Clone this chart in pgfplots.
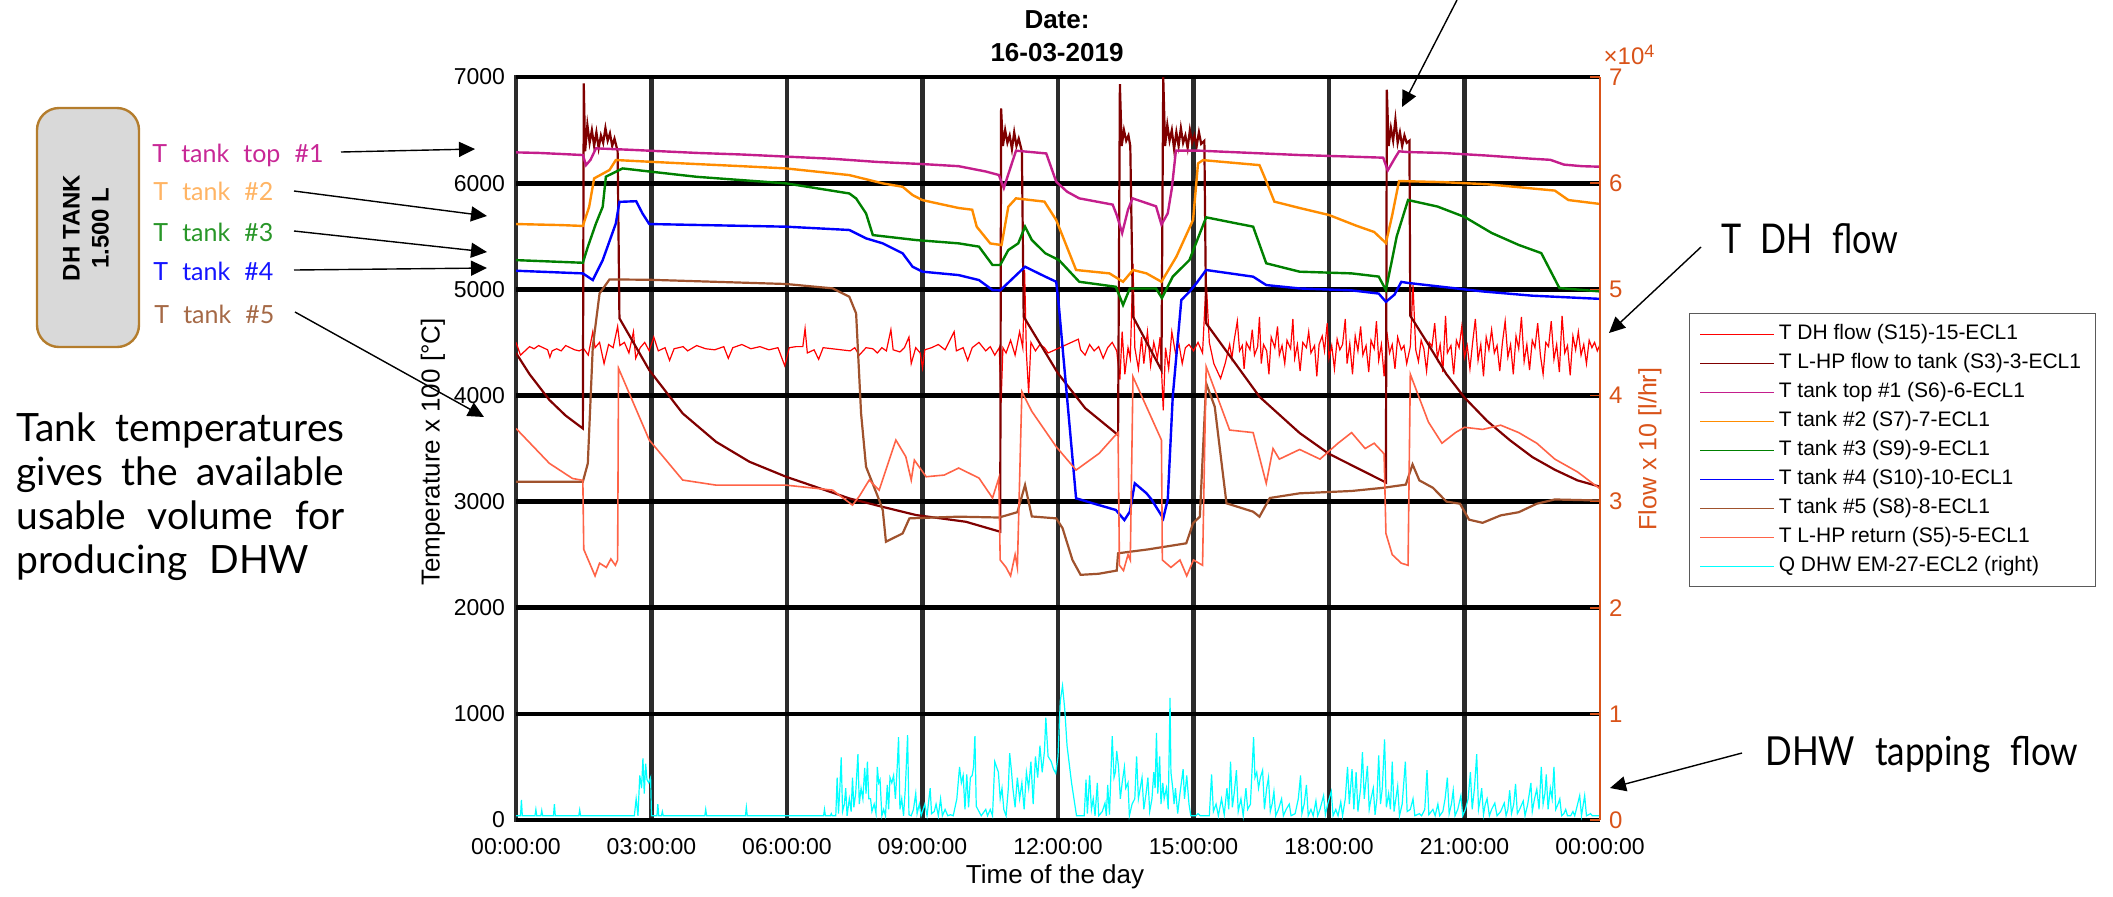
\documentclass[border=0pt]{standalone}
\usepackage{fontspec}
\setmainfont{Liberation Sans}
\newfontfamily\annot{Lato}[WordSpace=2.2]
\usepackage{graphicx}
\usepackage{pgfplots}
\pgfplotsset{compat=1.18}
\usetikzlibrary{arrows.meta}
\definecolor{cDH}{RGB}{255,0,0}
\definecolor{cLHP}{RGB}{128,0,0}
\definecolor{cTop}{RGB}{196,30,140}
\definecolor{cT2}{RGB}{255,140,0}
\definecolor{cT3}{RGB}{0,128,0}
\definecolor{cT4}{RGB}{0,0,255}
\definecolor{cT5}{RGB}{160,82,45}
\definecolor{cRet}{RGB}{255,99,71}
\definecolor{cQ}{RGB}{0,255,255}
\definecolor{cAx}{RGB}{217,83,25}
\definecolor{cGridV}{RGB}{43,43,43}
\definecolor{lTop}{RGB}{200,40,150}
\definecolor{lT2}{RGB}{255,180,100}
\definecolor{lT3}{RGB}{40,150,40}
\definecolor{lT4}{RGB}{20,20,255}
\definecolor{lT5}{RGB}{165,105,70}
\definecolor{boxfill}{RGB}{217,217,217}
\definecolor{boxdraw}{RGB}{180,125,45}
\definecolor{legdraw}{RGB}{90,90,90}
\begin{document}
\begin{tikzpicture}[x=0.5pt,y=-0.5pt]
\useasboundingbox (0,0) rectangle (2113,896);
% ---------------- main axis ----------------
\begin{axis}[
  at={(258pt,-410pt)}, anchor=south west, scale only axis,
  width=542pt, height=371.5pt,
  xmin=0, xmax=24, ymin=0, ymax=7000,
  axis line style={draw=none},
  xtick={0,3,...,21},
  xticklabels={00:00:00,03:00:00,06:00:00,09:00:00,12:00:00,15:00:00,18:00:00,21:00:00},
  extra x ticks={24}, extra x tick labels={00:00:00},
  extra x tick style={grid=none},
  ytick={0,1000,...,7000},
  yticklabels={0,1000,2000,3000,4000,5000,6000,7000},
  xmajorgrids, ymajorgrids,
  x grid style={line width=2.3pt, cGridV, line cap=rect},
  y grid style={line width=2.35pt, black},
  major tick length=0pt,
  tick label style={font=\fontsize{11.5}{13}\selectfont, black},
  yticklabel style={xshift=-2pt},
  xticklabel style={yshift=-5.5pt},
  legend cell align=left,
  legend style={at={(1.0821,0.6824)}, anchor=north west, draw=legdraw, line width=0.6pt,
    font=\fontsize{10.5}{12.6}\selectfont, inner xsep=5pt, inner ysep=3pt, row sep=0pt,
    nodes={inner sep=2pt, text height=8pt, text depth=2.5pt}},
  legend image code/.code={\draw[#1] (0pt,0pt) -- (37pt,0pt);},
  legend image post style={line width=0.6pt},
]
% T DH flow
\addplot[cDH, line width=0.6pt] coordinates {
(0,4500)(0.1,4380)(0.2,4420)(0.3,4460)(0.4,4440)(0.5,4470)(0.6,4450)(0.7,4430)(0.75,4360)(0.8,4420)(0.9,4440)(1.0,4420)(1.1,4470)(1.2,4450)(1.3,4430)(1.4,4420)(1.5,4440)(1.6,4380)(1.7,4600)(1.75,4450)(1.85,4500)(1.95,4300)(2.05,4480)(2.15,4450)(2.25,4650)(2.3,4470)(2.4,4500)(2.5,4400)(2.6,4600)(2.65,4350)(2.75,4450)(2.85,4500)(2.95,4420)(3.05,4550)(3.15,4420)(3.3,4450)(3.4,4330)(3.5,4440)(3.7,4460)(3.8,4420)(4.0,4470)(4.2,4440)(4.4,4430)(4.6,4460)(4.7,4350)(4.8,4450)(5.0,4480)(5.2,4440)(5.4,4460)(5.6,4430)(5.8,4450)(5.95,4280)(6.05,4450)(6.2,4460)(6.35,4460)(6.4,4630)(6.45,4400)(6.6,4430)(6.7,4340)(6.8,4450)(7.0,4440)
(7.2,4430)(7.4,4420)(7.5,4450)(7.6,4380)(7.75,4450)(7.9,4440)(8.0,4400)(8.1,4450)(8.2,4420)(8.3,4620)(8.35,4430)(8.5,4410)(8.6,4450)(8.7,4550)(8.75,4300)(8.85,4450)(8.95,4400)(9.0,4260)(9.05,4430)(9.2,4450)(9.35,4480)(9.5,4430)(9.7,4600)(9.75,4420)(9.9,4450)(10.0,4330)(10.1,4450)(10.25,4500)(10.4,4420)(10.5,4460)(10.6,4380)(10.7,4450)(10.74,3930)(10.78,4450)(10.85,4400)(10.95,4520)(11.05,4380)(11.15,4600)(11.22,4450)(11.26,5180)(11.3,4400)(11.35,4020)(11.4,4500)(11.5,4420)(11.6,4480)(11.7,4450)(11.78,4400)(12.45,4530)
(12.5,4430)(12.6,4380)(12.7,4480)(12.8,4420)(12.9,4460)(13.0,4350)(13.1,4450)(13.2,4500)(13.3,4420)(13.37,4150)(13.42,4600)(13.48,4200)(13.55,4450)(13.6,4350)(13.66,5240)(13.7,4450)(13.78,4250)(13.85,4550)(13.9,4300)(13.98,4600)(14.05,4280)(14.12,4500)(14.2,4350)(14.26,4550)(14.33,3860)(14.38,4450)(14.45,4250)(14.52,4600)(14.6,4400)(14.68,4480)(14.75,4300)(14.82,4450)(14.9,4480)(15.0,4420)(15.1,4500)(15.2,4400)(15.28,5090)(15.35,4500)(15.45,4300)(15.6,4160)(15.7,4300)
(15.8,4480)(15.85,4350)(15.9,4520)(15.97,4700)(16.02,4420)(16.08,4470)(16.12,4250)(16.17,4500)(16.25,4430)(16.3,4620)(16.35,4380)(16.42,4460)(16.46,4740)(16.5,4300)(16.55,4480)(16.62,4420)(16.67,4200)(16.72,4550)(16.8,4450)(16.86,4650)(16.9,4380)(16.96,4470)(17.02,4300)(17.07,4520)(17.15,4440)(17.2,4720)(17.24,4350)(17.3,4480)(17.36,4230)(17.42,4500)(17.5,4450)(17.55,4600)(17.6,4400)(17.68,4470)(17.73,4180)(17.78,4480)(17.85,4560)(17.9,4420)(17.96,4680)(18.0,4350)(18.06,4470)(18.12,4250)(18.18,4530)(18.24,4430)(18.3,4480)(18.36,4720)(18.4,4300)(18.46,4490)(18.52,4200)(18.58,4560)(18.64,4420)(18.7,4650)(18.75,4380)(18.82,4470)(18.88,4220)(18.93,4520)(19.0,4440)(19.05,4700)(19.1,4330)(19.16,4480)(19.22,4180)(19.28,4600)(19.34,4400)(19.4,4480)(19.46,4250)(19.52,4550)(19.6,4430)(19.66,4470)(19.72,4300)(19.8,4460)(19.86,5040)(19.92,4430)(19.98,4320)(20.04,4520)(20.1,4440)(20.16,4230)(20.22,4500)(20.28,4460)(20.34,4680)(20.4,4350)(20.46,4480)(20.52,4220)(20.58,4750)(20.62,4400)(20.7,4470)(20.76,4200)(20.82,4520)(20.88,4450)(20.94,4650)(21.0,4360)(21.06,4470)(21.12,4250)(21.18,4500)(21.24,4720)(21.3,4330)(21.36,4480)(21.42,4180)(21.48,4550)(21.54,4430)(21.6,4620)(21.66,4400)(21.72,4470)(21.78,4230)(21.84,4500)(21.9,4700)(21.96,4360)(22.02,4480)(22.08,4200)(22.14,4560)(22.2,4440)(22.26,4740)(22.32,4320)(22.38,4480)(22.44,4240)(22.5,4520)(22.56,4450)(22.62,4680)(22.68,4380)(22.74,4200)(22.8,4500)(22.86,4460)(22.92,4700)(22.98,4340)(23.04,4480)(23.1,4220)(23.16,4750)(23.22,4400)(23.28,4470)(23.34,4190)(23.4,4560)(23.46,4430)(23.52,4600)(23.58,4380)(23.64,4480)(23.7,4300)(23.76,4520)(23.82,4450)(23.88,4500)(23.94,4420)(24,4480)
};
\addlegendentry{T DH flow (S15)-15-ECL1}
% T L-HP flow to tank
\addplot[cLHP, line width=1.1pt] coordinates {
(0,4400)(0.3,4200)(0.74,3957)(1.1,3810)(1.48,3689)(1.5,6940)(1.53,6300)(1.58,6550)(1.63,6380)(1.68,6500)(1.73,6350)(1.78,6480)(1.83,6330)(1.88,6450)(1.93,6380)(1.98,6520)(2.03,6400)(2.08,6470)(2.13,6350)(2.18,6420)(2.25,6300)(2.29,4727)(2.95,4239)(3.69,3831)(4.43,3563)(5.17,3375)(5.98,3234)(7.38,3030)(8.12,2950)(8.86,2873)(9.96,2810)(10.72,2716)(10.74,6705)(10.78,6350)(10.83,6500)(10.88,6380)(10.93,6450)(10.98,6320)(11.03,6480)(11.08,6350)(11.13,6420)(11.2,6300)(11.24,4742)(12.0,4208)(12.6,3881)(13.33,3627)(13.37,6934)(13.41,6350)(13.46,6500)(13.51,6400)(13.56,6450)(13.6,6350)(13.66,4742)(14.29,4239)(14.33,7000)(14.37,6350)(14.42,6550)(14.47,6400)(14.52,6500)(14.57,6320)(14.62,6480)(14.67,6350)(14.72,6520)(14.77,6380)(14.82,6450)(14.87,6330)(14.92,6500)(14.97,6380)(15.02,6450)(15.07,6350)(15.12,6480)(15.17,6370)(15.24,6400)(15.28,4680)(16.46,3988)(17.35,3646)(18.0,3450)(18.7,3300)(19.26,3180)(19.28,6880)(19.32,6350)(19.37,6520)(19.42,6400)(19.47,6600)(19.52,6380)(19.57,6480)(19.62,6350)(19.67,6450)(19.72,6380)(19.78,6400)(19.8,4750)(20.2,4480)(20.6,4200)(21.0,3980)(21.5,3760)(22.0,3580)(22.5,3420)(23.0,3300)(23.5,3200)(24,3140)
};
\addlegendentry{T L-HP flow to tank (S3)-3-ECL1}
% T tank top #1
\addplot[cTop, line width=1.2pt] coordinates {
(0,6290)(0.5,6285)(1.0,6275)(1.48,6265)(1.55,6170)(1.65,6220)(1.77,6328)(2.5,6315)(3,6305)(4,6285)(5,6270)(6,6250)(7,6230)(8,6200)(9,6180)(9.8,6160)(10.4,6110)(10.69,6077)(10.8,5954)(10.95,6150)(11.07,6306)(11.74,6280)(11.96,6014)(12.2,5920)(12.47,5857)(13.21,5798)(13.3,5700)(13.42,5530)(13.55,5750)(13.65,5857)(14.17,5782)(14.29,5610)(14.43,5716)(14.52,5950)(14.61,6306)(15.14,6306)(16,6290)(17.35,6265)(18.5,6250)(19.2,6240)(19.3,6120)(19.45,6230)(19.55,6300)(19.75,6293)(20.5,6285)(21.5,6260)(22.5,6230)(22.9,6220)(23.2,6175)(23.6,6160)(24,6155)
};
\addlegendentry{T tank top \#1 (S6)-6-ECL1}
% T tank #2
\addplot[cT2, line width=1.2pt] coordinates {
(0,5615)(1.0,5605)(1.48,5597)(1.62,5778)(1.73,6045)(2.07,6124)(2.21,6218)(2.95,6202)(4,6180)(5,6160)(5.98,6139)(7.38,6076)(8.12,5998)(8.56,5966)(8.78,5888)(9.0,5840)(9.8,5766)(10.1,5750)(10.2,5590)(10.38,5495)(10.5,5432)(10.75,5417)(10.9,5778)(11.07,5857)(11.7,5826)(11.96,5653)(12.4,5182)(13.14,5150)(13.44,5071)(13.66,5182)(13.96,5150)(14.29,5071)(14.62,5307)(14.99,5653)(15.1,6186)(15.21,6217)(16.46,6170)(16.6,6029)(16.79,5826)(17.35,5766)(18.0,5700)(18.6,5600)(19.0,5540)(19.26,5436)(19.4,5700)(19.55,6020)(20.5,6010)(21.5,5990)(22.5,5950)(23.0,5930)(23.3,5841)(24,5804)
};
\addlegendentry{T tank \#2 (S7)-7-ECL1}
% T tank #3
\addplot[cT3, line width=1.2pt] coordinates {
(0,5275)(1.48,5250)(1.59,5400)(1.77,5620)(1.92,5778)(1.99,6061)(2.36,6139)(2.95,6110)(4,6060)(5.98,5998)(7.38,5903)(7.53,5856)(7.75,5715)(7.9,5511)(8.86,5464)(9.8,5433)(10.25,5402)(10.55,5229)(10.72,5229)(10.9,5370)(11.12,5433)(11.27,5590)(11.42,5465)(11.72,5339)(12.02,5276)(12.47,5071)(13.28,5024)(13.44,4852)(13.59,5008)(14.17,5008)(14.3,4918)(14.54,5119)(14.91,5276)(15.14,5527)(15.28,5678)(16.32,5590)(16.61,5245)(17.35,5166)(18.5,5150)(19.1,5120)(19.26,4993)(19.5,5500)(19.75,5841)(20.4,5780)(21.0,5682)(21.6,5531)(22.2,5418)(22.7,5341)(23.1,5012)(24,4980)
};
\addlegendentry{T tank \#3 (S9)-9-ECL1}
% T tank #4
\addplot[cT4, line width=1.2pt] coordinates {
(0,5175)(1.48,5150)(1.7,5087)(1.92,5275)(2.21,5620)(2.29,5824)(2.66,5830)(2.8,5715)(2.95,5615)(5.98,5590)(7.38,5559)(7.75,5480)(8.12,5433)(8.56,5339)(8.78,5213)(9.0,5166)(9.8,5134)(10.25,5087)(10.55,4993)(10.72,4990)(11.27,5213)(11.72,5119)(11.96,5071)(12.02,4836)(12.4,3031)(12.77,2984)(13.28,2921)(13.47,2826)(13.59,2905)(13.7,3172)(13.96,3078)(14.07,3020)(14.33,2842)(14.43,3020)(14.54,3988)(14.73,4899)(14.91,4977)(15.06,5055)(15.28,5182)(16.32,5119)(16.61,5040)(17.35,5008)(18.5,4990)(19.1,4960)(19.26,4882)(19.45,4950)(19.6,5070)(19.75,5060)(21.4,4980)(22.5,4940)(24,4910)
};
\addlegendentry{T tank \#4 (S10)-10-ECL1}
% T tank #5
\addplot[cT5, line width=1.1pt] coordinates {
(0,3187)(1.48,3187)(1.59,3360)(1.7,4459)(1.85,4961)(2.07,5093)(2.95,5090)(5.98,5050)(7.01,5009)(7.38,4930)(7.53,4773)(7.64,3831)(7.75,3328)(8.04,3015)(8.12,2920)(8.19,2622)(8.56,2700)(8.71,2842)(9.8,2858)(10.69,2850)(11.1,2900)(11.27,3156)(11.42,2860)(11.96,2842)(12.1,2750)(12.32,2450)(12.5,2310)(12.9,2320)(13.3,2350)(13.33,2513)(14.0,2550)(14.84,2607)(14.99,2796)(15.14,2858)(15.28,4114)(15.47,3894)(15.73,2984)(16.32,2905)(16.46,2858)(16.69,3034)(17.35,3078)(18.5,3100)(19.2,3130)(19.7,3160)(19.85,3350)(20.0,3200)(20.3,3130)(20.6,3000)(20.9,2980)(21.1,2830)(21.4,2800)(21.8,2870)(22.2,2900)(22.6,2980)(23.0,3020)(24,3010)
};
\addlegendentry{T tank \#5 (S8)-8-ECL1}
% T L-HP return
\addplot[cRet, line width=0.8pt] coordinates {
(0,3689)(0.74,3360)(1.25,3218)(1.48,3200)(1.5,2550)(1.6,2450)(1.75,2300)(1.85,2420)(2.0,2380)(2.1,2460)(2.2,2400)(2.25,2450)(2.27,4256)(2.95,3580)(3.69,3203)(4.43,3155)(5.98,3155)(7.01,3108)(7.45,2967)(7.6,3050)(7.82,3203)(8.04,3108)(8.41,3580)(8.63,3423)(8.75,3203)(8.82,3391)(9.08,3234)(9.48,3250)(9.8,3316)(10.25,3222)(10.55,3034)(10.69,3222)(10.72,2450)(10.85,2380)(10.95,2300)(11.05,2500)(11.1,2380)(11.2,4035)(11.42,3850)(11.96,3517)(12.4,3297)(12.91,3454)(13.24,3611)(13.33,3650)(13.36,2400)(13.45,2350)(13.55,2500)(13.6,2450)(13.66,4176)(14.29,3580)(14.31,2450)(14.5,2380)(14.7,2450)(14.85,2300)(15.0,2450)(15.2,2400)(15.28,4271)(15.8,3674)(16.32,3650)(16.61,3172)(16.76,3500)(16.9,3400)(17.35,3491)(17.8,3400)(18.2,3550)(18.5,3650)(18.8,3500)(19.0,3550)(19.22,3450)(19.26,2700)(19.4,2500)(19.6,2420)(19.75,2400)(19.8,4200)(20.2,3750)(20.5,3550)(20.8,3650)(21.0,3700)(21.4,3680)(21.8,3720)(22.2,3650)(22.6,3550)(23.0,3400)(23.5,3280)(24,3120)
};
\addlegendentry{T L-HP return (S5)-5-ECL1}
% Q DHW (right axis: 1000 here = 1 x 10^4 l/hr)
\addplot[cQ, line width=0.6pt] coordinates {
(0,40)(0.1,40)(0.12,190)(0.14,40)(0.42,40)(0.44,100)(0.46,40)(0.55,40)(0.57,90)(0.59,40)(0.83,40)(0.85,150)(0.87,40)(1.39,40)(1.41,95)(1.43,40)(2.62,40)(2.66,200)(2.7,40)(2.74,420)(2.78,300)(2.81,580)(2.84,250)(2.87,530)(2.9,380)(2.94,350)(2.98,400)(3.0,40)(3.12,40)(3.14,150)(3.16,40)(3.22,40)(3.24,80)(3.26,40)(4.18,40)(4.2,100)(4.22,40)(5.08,40)(5.1,120)(5.12,40)(6.81,40)(6.83,100)(6.85,40)(6.96,40)(6.98,60)(7.0,40)
(7.08,40)(7.11,400)(7.14,60)(7.17,300)(7.2,590)(7.23,80)(7.27,150)(7.3,300)(7.33,40)(7.38,200)(7.42,80)(7.45,400)(7.48,120)(7.52,250)(7.57,620)(7.6,150)(7.64,300)(7.68,200)(7.72,490)(7.75,250)(7.78,550)(7.81,200)(7.85,200)(7.88,80)(7.93,150)(7.97,60)(8.0,500)(8.03,350)(8.06,380)(8.1,40)(8.14,100)(8.18,40)(8.22,330)(8.25,100)(8.28,400)(8.32,350)(8.36,420)(8.4,200)(8.44,500)(8.47,780)(8.5,100)(8.54,200)(8.58,40)(8.62,300)(8.67,800)(8.7,50)(8.75,40)(8.8,100)(8.85,250)(8.88,60)(8.93,150)(8.97,40)(9.05,150)(9.1,40)(9.17,300)(9.2,60)(9.26,80)(9.3,150)(9.35,40)(9.4,200)(9.44,40)(9.5,100)(9.56,40)(9.62,50)(9.68,40)(9.76,200)(9.82,500)(9.86,350)(9.9,420)(9.94,100)(9.98,430)(10.02,120)(10.06,400)(10.1,420)(10.13,500)(10.16,790)(10.19,130)(10.25,80)(10.3,40)(10.4,100)(10.44,40)(10.5,100)(10.55,40)(10.6,550)(10.64,500)(10.68,450)(10.72,200)(10.76,300)(10.8,100)(10.85,40)(10.9,300)(10.93,630)(10.97,460)(11.0,300)(11.05,120)(11.1,400)(11.15,200)(11.2,350)(11.25,100)(11.3,450)(11.35,300)(11.4,550)(11.45,150)(11.5,600)(11.55,400)(11.6,700)(11.65,450)(11.7,650)(11.73,965)(11.78,600)(11.85,550)(11.9,480)(11.95,440)(12.0,600)(12.05,1120)(12.1,1265)(12.15,1040)(12.2,700)(12.3,350)(12.41,40)
(12.58,40)(12.62,380)(12.65,60)(12.7,420)(12.74,100)(12.78,200)(12.82,40)(12.87,350)(12.9,40)(12.98,80)(13.04,160)(13.07,40)(13.1,330)(13.14,50)(13.2,790)(13.24,400)(13.27,450)(13.3,650)(13.34,500)(13.38,200)(13.42,350)(13.47,500)(13.5,300)(13.55,350)(13.58,40)(13.64,150)(13.7,200)(13.74,600)(13.78,200)(13.82,300)(13.86,400)(13.9,100)(13.95,250)(13.99,400)(14.03,80)(14.08,200)(14.12,450)(14.15,300)(14.18,820)(14.21,250)(14.25,600)(14.28,150)(14.32,350)(14.35,200)(14.4,300)(14.44,100)(14.48,1150)(14.5,450)(14.54,300)(14.57,150)(14.6,300)(14.65,60)(14.7,250)(14.77,480)(14.8,200)(14.85,420)(14.9,150)(14.94,40)
(15.05,40)(15.1,60)(15.15,40)(15.35,40)(15.4,430)(15.44,80)(15.5,150)(15.55,40)(15.62,200)(15.68,50)(15.74,300)(15.78,100)(15.82,550)(15.86,120)(15.9,250)(15.95,470)(15.99,80)(16.05,200)(16.1,40)(16.16,300)(16.2,100)(16.26,150)(16.33,780)(16.36,400)(16.4,450)(16.44,300)(16.48,400)(16.53,470)(16.57,100)(16.62,300)(16.66,400)(16.7,80)(16.74,150)(16.78,270)(16.82,40)(16.88,100)(16.95,200)(16.99,40)(17.05,100)(17.12,150)(17.16,40)(17.25,60)(17.32,200)(17.37,420)(17.4,60)(17.45,150)(17.5,330)(17.54,40)(17.6,100)(17.65,40)(17.71,180)(17.75,40)(17.8,100)(17.88,230)(17.92,50)(17.97,150)(18.05,270)(18.09,40)(18.15,100)(18.2,40)(18.26,170)(18.3,40)(18.36,200)(18.41,500)(18.45,150)(18.51,480)(18.55,100)(18.6,450)(18.64,80)(18.7,300)(18.74,640)(18.78,200)(18.85,510)(18.89,100)(18.93,200)(18.98,300)(19.02,50)(19.06,200)(19.1,610)(19.14,150)(19.18,300)(19.23,760)(19.27,120)(19.32,250)(19.36,100)(19.4,550)(19.44,80)(19.48,200)(19.52,320)(19.56,40)(19.62,150)(19.69,550)(19.73,80)(19.8,100)(19.86,200)(19.9,40)(20.0,60)(20.05,40)(20.12,100)(20.17,470)(20.21,50)(20.3,100)(20.35,40)(20.41,150)(20.45,40)(20.52,80)(20.57,200)(20.62,400)(20.66,60)(20.71,150)(20.75,280)(20.79,40)(20.85,100)(20.92,230)(20.96,40)(21.02,100)(21.08,200)(21.13,450)(21.17,100)(21.22,300)(21.27,620)(21.31,100)(21.35,200)(21.38,300)(21.42,50)(21.46,150)(21.5,200)(21.55,40)(21.6,100)(21.67,160)(21.72,40)(21.8,80)(21.88,160)(21.92,40)(21.96,100)(22.0,280)(22.04,60)(22.09,150)(22.13,340)(22.17,60)(22.22,100)(22.3,180)(22.34,40)(22.4,150)(22.47,350)(22.5,80)(22.55,200)(22.6,290)(22.65,100)(22.7,500)(22.74,150)(22.78,250)(22.81,430)(22.85,100)(22.9,300)(22.94,200)(22.98,500)(23.02,100)(23.07,150)(23.11,200)(23.15,40)(23.2,60)(23.24,100)(23.28,40)(23.35,40)(23.4,80)(23.44,40)(23.55,230)(23.59,40)(23.66,230)(23.7,40)(23.79,60)(23.83,40)(24,40)
};
\addlegendentry{Q DHW EM-27-ECL2 (right)}
\end{axis}
% ---------------- right axis ----------------
\begin{axis}[
  at={(258pt,-410pt)}, anchor=south west, scale only axis,
  width=542pt, height=371.5pt,
  xmin=0, xmax=24, ymin=0, ymax=7,
  axis x line=none, axis y line*=right,
  y axis line style={cAx, line width=0.8pt},
  ytick={0,1,...,7}, yticklabels={0,1,2,3,4,5,6,7},
  tick align=inside, major tick length=5pt,
  ytick style={cAx, line width=0.8pt},
  yticklabel style={font=\fontsize{12}{14}\selectfont, text=cAx, xshift=1pt},
]
\addplot[draw=none, forget plot] coordinates {(0,0)(24,7)};
\end{axis}
% ---------------- axis texts ----------------
\node[font=\bfseries\fontsize{13}{15}\selectfont] at (1057,20) {Date:};
\node[font=\bfseries\fontsize{13}{15}\selectfont] at (1057,53) {16-03-2019};
\node[font=\fontsize{13}{15}\selectfont] at (1055,877) {Time of the day};
\node[font=\fontsize{13}{15}\selectfont, rotate=90] at (433,452) {Temperature x 100 [°C]};
\node[font=\fontsize{12.5}{15}\selectfont, rotate=90, text=cAx] at (1650,449) {Flow x 10 [l/hr]};
\node[font=\fontsize{12}{14}\selectfont, text=cAx] at (1629,55) {×10\raisebox{0.55ex}{\fontsize{9}{10}\selectfont 4}};
% ---------------- left annotations ----------------
\draw[boxdraw, fill=boxfill, line width=1.2pt, rounded corners=11pt] (37,108) rectangle (139,347);
\node[font=\bfseries\fontsize{12}{14.5}\selectfont, rotate=90, align=center] at (86,228) {DH TANK\\1.500 L};
\node[anchor=base west, inner sep=0pt, font=\annot\fontsize{12.5}{15}\selectfont, text=lTop] at (152,162) {T tank top \#1};
\node[anchor=base west, inner sep=0pt, font=\annot\fontsize{12.5}{15}\selectfont, text=lT2] at (153,200) {T tank \#2};
\node[anchor=base west, inner sep=0pt, font=\annot\fontsize{12.5}{15}\selectfont, text=lT3] at (153,241) {T tank \#3};
\node[anchor=base west, inner sep=0pt, font=\annot\fontsize{12.5}{15}\selectfont, text=lT4] at (153,280) {T tank \#4};
\node[anchor=base west, inner sep=0pt, font=\annot\fontsize{12.5}{15}\selectfont, text=lT5] at (154,323) {T tank \#5};
\begin{scope}[line width=0.7pt, -{Triangle[length=8pt,width=7.5pt]}]
\draw (341,152) -- (475,149);
\draw (294,191) -- (487,216);
\draw (294,231) -- (487,252);
\draw (294,270) -- (487,268);
\draw (295,312) -- (484,417);
\draw (1701,247) -- (1609,333);
\draw (1742,753) -- (1610,788);
\draw (1457,0) -- (1402,107);
\end{scope}
\node[anchor=base west, inner sep=0pt, font=\annot\fontsize{19.5}{22}\selectfont] at (16,441) {\makebox[164pt][s]{Tank temperatures}};
\node[anchor=base west, inner sep=0pt, font=\annot\fontsize{19.5}{22}\selectfont] at (16,485) {\makebox[164pt][s]{gives the available}};
\node[anchor=base west, inner sep=0pt, font=\annot\fontsize{19.5}{22}\selectfont] at (16,529) {\makebox[164pt][s]{usable volume for}};
\node[anchor=base west, inner sep=0pt, font=\annot\fontsize{19.5}{22}\selectfont] at (16,573) {producing DHW};
% ---------------- right annotations ----------------
\node[anchor=base west, inner sep=0pt, font=\annot\fontsize{20.5}{24}\selectfont] at (1721,253) {\resizebox{88.5pt}{\height}{T DH flow}};
\node[anchor=base west, inner sep=0pt, font=\annot\fontsize{20}{24}\selectfont] at (1765,765) {\resizebox{156.5pt}{\height}{DHW tapping flow}};
\end{tikzpicture}
\end{document}
